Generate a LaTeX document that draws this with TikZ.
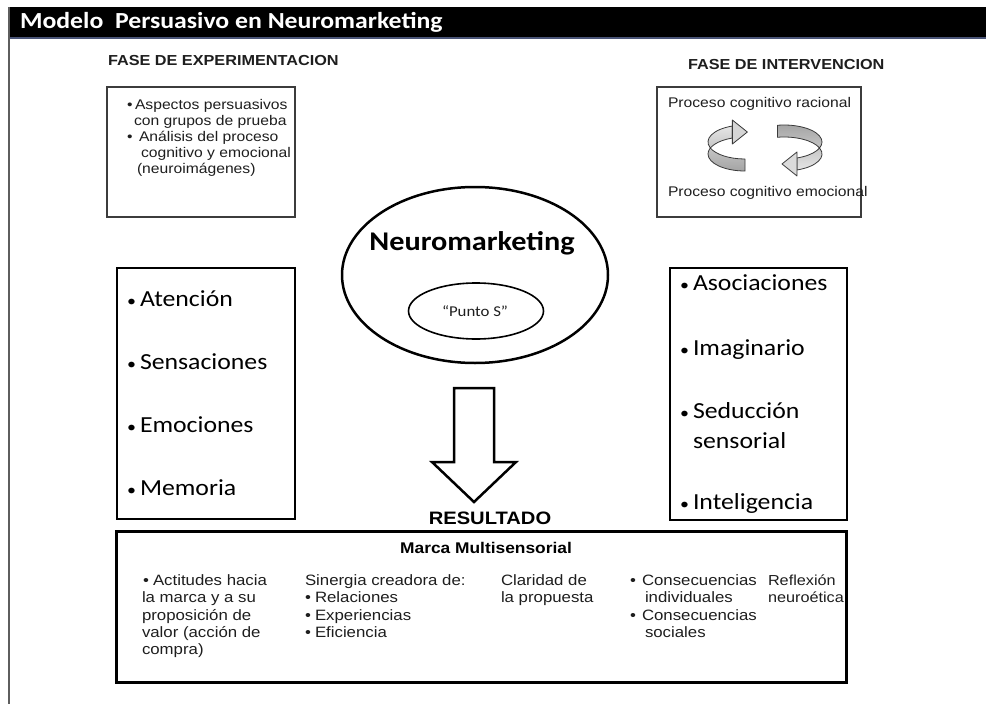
\documentclass[tikz,border=0pt]{standalone}
\usepackage{fontspec}
\usetikzlibrary{shapes.geometric,calc}
% Calibri- and Arial-like faces, slightly widened
\newfontfamily\calibrifont[FakeStretch=1.12]{Carlito}
\newfontfamily\arialfont[FakeStretch=1.12]{Liberation Sans}
\definecolor{ink}{HTML}{1E1E1E}
\definecolor{framegray}{HTML}{3C3C3C}
\definecolor{rulegray}{HTML}{5E5E5E}
\definecolor{headrule}{HTML}{4A5578}
\definecolor{ribbonline}{HTML}{3A3A3A}
\begin{document}
\begin{tikzpicture}[x=1pt,y=-1pt,
  every node/.style={inner sep=0pt,outer sep=0pt},
  txt/.style={anchor=base west,text=ink,font=\arialfont\fontsize{14}{16}\selectfont},
  coltxt/.style={anchor=base west,text=ink,font=\arialfont\fontsize{15}{17}\selectfont},
  phase/.style={anchor=base west,text=ink,font=\arialfont\bfseries\fontsize{14.5}{17}\selectfont},
  item/.style={anchor=base west,text=black,font=\calibrifont\fontsize{23}{27}\selectfont},
  itembullet/.style={anchor=base west,text=black,font=\calibrifont\fontsize{16}{18}\selectfont},
  thinbox/.style={draw=framegray,line width=1.2pt,rectangle},
  thickbox/.style={draw=black,line width=2.6pt,rectangle},
  ribbon/.style={draw=ribbonline,line width=0.8pt,line join=round}]
\useasboundingbox (0,0) rectangle (986,704);
\fill[white] (0,0) rectangle (986,704);

% title bar and page rule
\fill[black] (9,7) rectangle (986,37);
\draw[headrule,line width=2pt] (9,38) -- (986,38);
\draw[rulegray,line width=1.4pt] (9,7) -- (9,704);
\node[anchor=base west,text=white,font=\calibrifont\bfseries\fontsize{23}{27}\selectfont]
  (title) at (20,28) {Modelo\ \ Persuasivo en Neuromarketing};

% phase headings
\node[phase] (phaseexp) at (108,65) {FASE DE EXPERIMENTACION};
\node[phase] (phaseint) at (688,69) {FASE DE INTERVENCION};

% experimentation box
\node[thinbox,minimum width=188pt,minimum height=130pt] (expbox) at (201,152) {};
\node[txt] (b1) at (127,109) {•};
\node[txt] (e1) at (135,109) {Aspectos persuasivos};
\node[txt] (e2) at (134,125) {con grupos de prueba};
\node[txt] (b2) at (127,141) {•};
\node[txt] (e3) at (139,141) {Análisis del proceso};
\node[txt] (e4) at (141,157) {cognitivo y emocional};
\node[txt] (e5) at (137,173) {(neuroimágenes)};

% intervention box with the two turning arrows
\node[thinbox,minimum width=204pt,minimum height=130pt] (intbox) at (759,152) {};
\node[txt] (racional) at (668,107) {Proceso cognitivo racional};
\node[txt] (emocional) at (668,196) {Proceso cognitivo emocional};

\path[ribbon,top color=gray!20,bottom color=gray!72]
  ($(745,142)+(250:37 and 17)$) arc[start angle=250,end angle=90,x radius=37,y radius=17]
  -- ++(0,12) arc[start angle=90,end angle=250,x radius=37,y radius=17] -- cycle;
\path[ribbon,fill=gray!33] ($(745,142)+(250:37 and 17)+(0,-6)$) coordinate (lhA)
  -- ++(15,12) coordinate (lhtip) -- ++(-15,12) coordinate (lhB) -- cycle;

\path[ribbon,top color=gray!72,bottom color=gray!20]
  ($(784,142)+(260:38 and 17)$) arc[start angle=260,end angle=430,x radius=38,y radius=17]
  -- ++(0,12) arc[start angle=430,end angle=260,x radius=38,y radius=17] -- cycle;
\path[ribbon,fill=gray!28] ($(784,142)+(70:38 and 17)+(0,-6)$) coordinate (rhA)
  -- ++(-15,12) coordinate (rhtip) -- ++(15,12) coordinate (rhB) -- cycle;

% central ellipse
\node[draw=black,ellipse,line width=2.5pt,minimum width=266pt,minimum height=176pt] (neuro) at (475,275) {};
\node[anchor=base,text=black,font=\calibrifont\bfseries\fontsize{27}{32}\selectfont] (neurotxt) at (472,250) {Neuromarketing};
\node[draw=black,ellipse,line width=1.6pt,minimum width=135pt,minimum height=56pt] (puntos) at (476,311) {};
\node[anchor=base,text=ink,font=\calibrifont\fontsize{15}{18}\selectfont] (puntostxt) at (475,316) {“Punto S”};

% block arrow towards the result
\draw[black,line width=2.5pt,line join=miter]
  (454,388) coordinate (shaftL) -- (494,388) coordinate (shaftR) -- (494,462) -- (516,462)
  -- (474,502) coordinate (tip) -- (432,462) -- (454,462) -- cycle;

% side boxes
\node[thickbox,minimum width=178pt,minimum height=251pt] (leftbox) at (206,393.5) {};
\node[itembullet] (l1b) at (127,306) {•};
\node[item] (l1) at (140,306) {Atención};
\node[itembullet] (l2b) at (127,369) {•};
\node[item] (l2) at (140,369) {Sensaciones};
\node[itembullet] (l3b) at (127,432) {•};
\node[item] (l3) at (140,432) {Emociones};
\node[itembullet] (l4b) at (127,495) {•};
\node[item] (l4) at (140,495) {Memoria};

\node[thickbox,minimum width=177pt,minimum height=252pt] (rightbox) at (758.5,394) {};
\node[itembullet] (r1b) at (680,290) {•};
\node[item] (r1) at (693,290) {Asociaciones};
\node[itembullet] (r2b) at (680,355) {•};
\node[item] (r2) at (693,355) {Imaginario};
\node[itembullet] (r3b) at (680,418) {•};
\node[item] (r3) at (693,418) {Seducción};
\node[item] (r3c) at (693,448) {sensorial};
\node[itembullet] (r4b) at (680,509) {•};
\node[item] (r4) at (693,509) {Inteligencia};

% result
\node[anchor=base,text=black,font=\arialfont\bfseries\fontsize{18}{21}\selectfont] (resultado) at (490,524) {RESULTADO};
\node[draw=black,line width=3pt,rectangle,minimum width=730pt,minimum height=151pt] (marcabox) at (481,606.5) {};
\node[anchor=base,text=black,font=\arialfont\bfseries\fontsize{15.5}{19}\selectfont] (marca) at (486,553) {Marca Multisensorial};

% column 1
\node[coltxt] (c1b) at (143,585) {•};
\node[coltxt] (c1a) at (153,585) {Actitudes hacia};
\node[coltxt] (c1c) at (142,602) {la marca y a su};
\node[coltxt] (c1d) at (142,620) {proposición de};
\node[coltxt] (c1e) at (142,637) {valor (acción de};
\node[coltxt] (c1f) at (142,654) {compra)};
% column 2
\node[coltxt] (c2a) at (305,585) {Sinergia creadora de:};
\node[coltxt] (c2b1) at (305,602) {•};
\node[coltxt] (c2b) at (315,602) {Relaciones};
\node[coltxt] (c2c1) at (305,620) {•};
\node[coltxt] (c2c) at (315,620) {Experiencias};
\node[coltxt] (c2d1) at (305,637) {•};
\node[coltxt] (c2d) at (315,637) {Eficiencia};
% column 3
\node[coltxt] (c3a) at (501,585) {Claridad de};
\node[coltxt] (c3b) at (501,602) {la propuesta};
% column 4
\node[coltxt] (c4a1) at (630,585) {•};
\node[coltxt] (c4a) at (642,585) {Consecuencias};
\node[coltxt] (c4b) at (645,602) {individuales};
\node[coltxt] (c4c1) at (630,620) {•};
\node[coltxt] (c4c) at (642,620) {Consecuencias};
\node[coltxt] (c4d) at (645,637) {sociales};
% column 5
\node[coltxt,font=\arialfont\fontsize{14.5}{17}\selectfont] (c5a) at (768,585) {Reflexión};
\node[coltxt,font=\arialfont\fontsize{14.5}{17}\selectfont] (c5b) at (768,602) {neuroética};
\end{tikzpicture}
\end{document}
